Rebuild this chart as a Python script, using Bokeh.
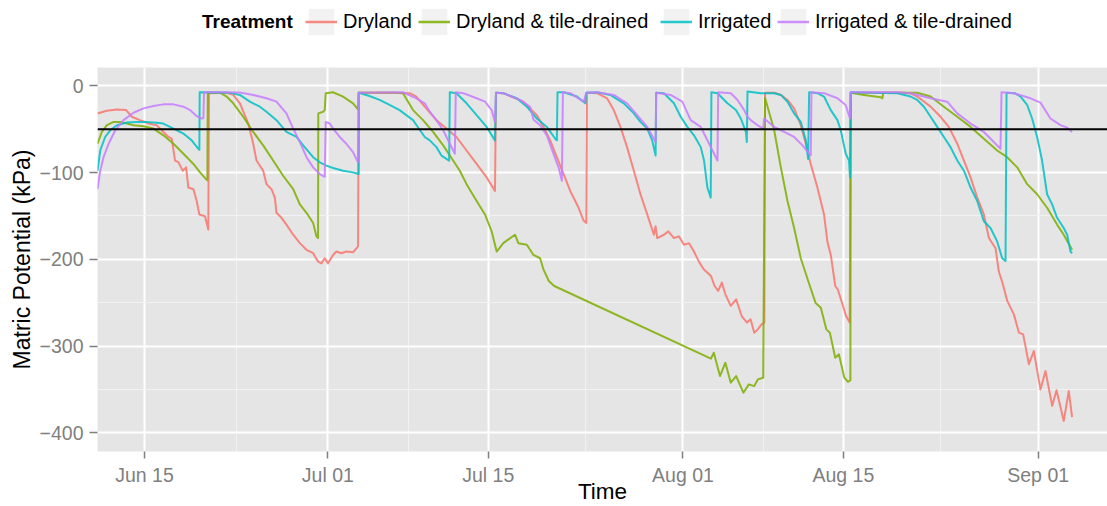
import pandas as pd
from bokeh.plotting import figure
from bokeh.layouts import column
from bokeh.models import (Range1d, FixedTicker, DatetimeTickFormatter, Legend, LegendItem,
                          Span, ColumnDataSource)
from bokeh.embed import file_html
from bokeh.resources import INLINE

# ---------------- data (days since Jun 15, matric potential in kPa) ----------------
day0 = pd.Timestamp("2013-06-15")

treatments = ["Dryland", "Dryland & tile-drained", "Irrigated", "Irrigated & tile-drained"]
colors = ["#F8766D", "#7CAE00", "#00BFC4", "#C77CFF"]

dryland_days = [-4.1, -3.3, -2.4, -1.6, -1.1, -0.4, 0.35, 1.07, 1.65, 2.09, 2.38, 2.67, 2.96, 3.34, 3.63, 3.83, 4.27, 4.56, 4.79, 5.28, 5.57, 5.63,
                7.17, 7.75, 8.33, 9.06, 9.49, 9.78, 10.36, 10.65, 11.09, 11.38, 11.52, 11.96, 12.39, 12.98, 13.56, 14.14, 14.72, 15.15, 15.44, 15.73, 16.02, 16.46, 16.75, 17.18, 17.62, 18.2, 18.64, 18.69,
                21.4, 23.15, 23.73, 24.46, 25.48, 26.36, 27.23, 28.11, 28.99, 29.86, 30.59, 30.68,
                31.32, 33.07, 34.24, 34.83, 35.41, 35.99, 36.58, 37.16, 37.89, 38.33, 38.56, 38.62,
                39.5, 40.37, 40.96, 41.54, 42.12, 42.71, 43.29, 43.88, 44.46, 44.61, 44.75, 45.34, 45.72, 46.21, 46.65, 47.09, 47.53, 47.96, 48.4, 48.81, 49.44, 49.76, 50.07, 50.39, 50.7, 51.17, 51.64, 52.12, 52.59, 52.9, 53.22, 53.53, 53.85, 54.1, 54.16,
                55.0, 55.54, 56.12, 56.7, 57.28, 57.72, 58.15, 58.73, 59.31, 59.6, 59.9, 60.29, 60.51, 60.92, 61.23, 61.55, 61.64,
                66.3, 66.9, 67.45, 68.61, 69.48, 70.2, 70.94, 71.52, 72.1, 72.68, 73.26, 73.7, 74.28, 74.57, 74.86, 75.3, 75.88, 76.32, 76.69, 77.19, 77.62, 78.2, 78.64, 79.22, 79.6, 80.23, 80.67, 80.96]
dryland_kpa = [-32, -28.7, -27.2, -28, -35.7, -39.6, -43.5, -45.4, -53.2, -59, -61, -86.2, -88, -97.9, -94, -117.3, -119.2, -132.8, -148.3, -150.3, -165.8, -8.5,
               -8, -10.5, -20.2, -43.5, -66.8, -86.2, -97.9, -113.4, -119.2, -128.9, -146.4, -152.2, -160, -171.7, -181.4, -189.1, -193, -202.7, -204.7, -198.8, -204.7, -195, -191, -193, -191, -192, -185.2, -8,
               -8, -8.5, -12.4, -24.1, -39.6, -49.3, -59, -74.6, -90.1, -105.6, -121.2, -8,
               -8.5, -18.3, -33.8, -47.4, -62.9, -82.3, -101.7, -121.2, -140.6, -155.3, -158.1, -8,
               -8.5, -14.4, -28, -47.4, -70.7, -97.9, -125, -148.3, -171.7, -162, -175.5, -171.7, -167.8, -175.5, -173.6, -183.3, -181.4, -191.1, -203, -211.5, -219.2, -230.8, -236.5, -226.9, -240.4, -253.8, -246.2, -265.4, -273, -269.2, -284.6, -280.8, -275, -273, -8,
               -8, -10.5, -16.3, -26, -45.4, -66.8, -90.1, -117.3, -148.3, -179.4, -195, -230.8, -234.6, -252, -265.4, -273, -8,
               -8, -9, -12.4, -24, -35.7, -47.4, -66.8, -86.2, -105.6, -128.9, -148.3, -175.5, -187.2, -214.4, -226, -248, -263.5, -284.6, -286.5, -321, -305.8, -350, -328.8, -369, -351, -386.5, -352, -382]

dry_tile_days = [-4.1, -3.72, -3.28, -2.7, -2.12, -1.54, -0.96, -0.09, 0.78, 1.65, 2.53, 3.4, 4.27, 4.85, 5.37, 5.49, 5.52,
                 6.59, 7.17, 7.75, 8.62, 9.49, 10.36, 11.23, 12.1, 12.98, 13.56, 14.14, 14.72, 15.01, 15.15, 15.17, 15.59, 15.73, 15.82,
                 16.46, 17.33, 18.2, 18.64, 18.69,
                 22.0, 22.56, 23.44, 24.31, 25.19, 26.07, 26.94, 27.52, 28.11, 28.99, 29.72, 30.3, 30.74, 31.32, 32.34, 32.63, 33.37, 33.95, 34.53, 34.83, 35.29, 35.76, 49.44, 49.69, 50.23, 50.7, 51.17, 51.64, 52.27, 52.75, 53.22, 53.53, 54.0, 54.16,
                 54.38, 54.96, 55.54, 56.12, 56.7, 57.28, 57.93, 58.56, 59.03, 59.51, 59.82, 60.29, 60.61, 61.08, 61.39, 61.61, 61.64,
                 62.8, 64.25, 64.4, 64.48, 67.45, 68.61, 69.77, 70.94, 72.1, 73.26, 74.42, 75.29, 76.17, 77.04, 77.91, 78.78, 79.65, 80.23, 80.96]
dry_tile_kpa = [-66.8, -53.2, -45.4, -41.6, -41.6, -43.5, -45.4, -46.6, -49.3, -57.1, -66.8, -78.4, -90.1, -99.8, -107.6, -108.7, -8,
                -8, -12.4, -20.2, -35.7, -53.2, -68.7, -86.2, -103.7, -119.2, -136.7, -146.4, -158.1, -173.6, -175.5, -31.8, -29.9, -28, -8.5,
                -7.4, -12.4, -20.2, -27.2, -8,
                -8, -8.5, -28, -39.6, -53.2, -68.7, -86.2, -97.9, -113.4, -132.8, -148.3, -167.8, -191.1, -181.4, -171.7, -181.4, -183.3, -195, -198.8, -212, -225, -230.8, -314.6, -307.7, -334.6, -319.2, -342.3, -334.6, -353.8, -344.2, -346.2, -338.5, -336.5, -14,
                -24.1, -51.3, -94, -132.8, -163.9, -198.8, -225, -250, -255.8, -280.8, -284.6, -313.5, -309.6, -336.5, -341.2, -339.6, -8,
                -10.5, -13.2, -14.4, -8, -8, -12.4, -24.1, -35.7, -47.4, -61, -74.6, -82.3, -94, -113.4, -125, -140.6, -160, -171.7, -189.1]

irrigated_days = [-4.1, -3.86, -3.43, -2.99, -2.41, -1.54, -0.67, 0.2, 1.07, 1.65, 2.53, 3.4, 4.12, 4.7, 4.79, 4.82,
                  7.46, 8.33, 9.2, 10.07, 10.65, 11.52, 12.39, 13.27, 13.85, 14.72, 15.3, 15.88, 16.46, 17.33, 18.2, 18.69, 18.72,
                  19.64, 20.52, 21.39, 22.27, 22.85, 23.44, 24.46, 24.9, 25.48, 25.92, 26.59, 26.65,
                  27.23, 28.11, 28.99, 29.86, 30.59, 30.68,
                  31.32, 32.49, 33.37, 34.24, 35.12, 35.85, 35.99, 36.05, 36.58, 37.74, 38.47, 38.56,
                  39.5, 40.66, 41.83, 42.71, 43.29, 43.88, 44.31, 44.61, 44.66,
                  45.34, 46.21, 46.8, 47.38, 47.96, 48.55, 48.84, 49.13, 49.42, 49.48,
                  50.01, 50.88, 51.62, 52.05, 52.49, 52.57, 52.63,
                  53.8, 54.96, 55.54, 56.12, 56.7, 57.28, 57.72, 57.92, 58.01,
                  58.73, 59.31, 59.9, 60.48, 60.77, 61.2, 61.49, 61.58, 61.64,
                  65.71, 66.87, 67.45, 68.03, 68.61, 69.19, 69.77, 70.35, 70.94, 71.52, 72.1, 72.68, 73.26, 73.84, 74.42, 74.86, 75.15, 75.24,
                  75.96, 76.46, 77.04, 77.47, 77.91, 78.34, 78.78, 79.22, 79.65, 80.23, 80.53, 80.82, 80.96]
irrigated_kpa = [-97.9, -74.6, -59, -51.3, -45.4, -42.3, -41.6, -41.6, -42.7, -43.5, -49.3, -55.1, -62.9, -72.6, -73.8, -7.4,
                 -8, -10.5, -18.3, -24.1, -29.9, -39.6, -53.2, -59, -68.7, -82.3, -88.2, -92, -94.8, -97.9, -99.8, -101.7, -8,
                 -11.7, -16.3, -22.1, -28, -33.8, -39.6, -59, -62.9, -70.7, -80.4, -86.2, -7.4,
                 -8.5, -20.2, -33.8, -47.4, -62.9, -8,
                 -8.5, -14.4, -24.1, -37.7, -47.4, -61, -62.9, -7.4, -7.4, -12.4, -20.2, -8,
                 -7.4, -10.5, -20.2, -31.8, -41.6, -49.3, -62.9, -80.4, -8,
                 -8.5, -20.2, -35.7, -47.4, -57.1, -70.7, -86.2, -117.3, -128.9, -7.4,
                 -8.5, -20.2, -28, -37.7, -53.2, -64.9, -6.6,
                 -8.5, -8.5, -10.5, -18.3, -31.8, -41.6, -62.9, -84.3, -7.4,
                 -8.5, -12.4, -28, -39.6, -51.3, -78.4, -86.2, -105.6, -7.4,
                 -8.5, -12.4, -16.3, -24.1, -35.7, -47.4, -59, -70.7, -86.2, -97.9, -117.3, -132.8, -156.1, -163.9, -179.4, -198.8, -202, -8,
                 -8.5, -12.4, -22.1, -37.7, -59, -86.2, -125, -136.7, -152.2, -163.9, -171.7, -191.1, -193]

irr_tile_days = [-4.1, -3.86, -3.57, -3.13, -2.55, -1.83, -0.96, -0.09, 0.78, 1.65, 2.53, 3.4, 3.98, 4.56, 4.99, 5.14, 5.2,
                 6.59, 8.33, 9.49, 10.65, 11.52, 12.39, 12.98, 13.56, 14.14, 14.72, 15.3, 15.73, 15.82,
                 16.17, 16.46, 17.04, 17.62, 18.2, 18.64, 18.72,
                 22.56, 23.73, 24.46, 24.9, 25.48, 26.07, 26.65, 27.09, 27.17,
                 27.82, 28.99, 29.72, 30.3, 30.59, 30.68,
                 31.32, 32.78, 33.66, 33.95, 34.53, 35.12, 35.7, 36.14, 36.43, 36.52,
                 37.16, 38.33, 38.56,
                 39.5, 40.96, 42.12, 43.0, 43.88, 44.61, 44.66,
                 45.92, 46.94, 47.67, 48.55, 49.28, 50.01, 50.07,
                 51.18, 51.76, 52.34, 52.63, 52.92, 53.5, 54.0, 54.09, 54.96, 55.83, 56.7, 57.43, 58.15, 58.21,
                 59.31, 60.48, 61.2, 61.58, 61.64,
                 65.71, 66.87, 68.61, 70.06, 70.94, 72.1, 73.26, 74.71, 74.8,
                 75.87, 77.33, 78.2, 79.07, 79.94, 80.53, 80.96]
irr_tile_kpa = [-119.2, -97.9, -82.3, -66.8, -51.3, -39.6, -31.1, -26, -23.3, -21.4, -21.4, -24.1, -28, -35, -37.7, -37.3, -7.4,
                -7.4, -7.8, -10.5, -14.4, -18.3, -31.8, -49.3, -64.9, -82.3, -94, -101.7, -104.9, -41.6,
                -43.5, -49.3, -59, -66.8, -76.5, -88.2, -8,
                -7.4, -14.4, -20.2, -29.9, -39.6, -51.3, -66.8, -78.4, -7.4,
                -8.5, -14.4, -18.3, -28, -41.6, -8,
                -8.5, -16.3, -24.1, -38.8, -45.4, -57.1, -78.4, -94, -109.5, -7.4,
                -8.5, -18.3, -8,
                -7.4, -10.5, -20.2, -33.8, -47.4, -64.9, -8,
                -10.5, -18.3, -39.6, -47.4, -66.8, -86.2, -7.4,
                -8.5, -16.3, -28, -35.7, -39.6, -45.4, -49.3, -37.7, -47.4, -53.2, -59, -68.7, -80.4, -7.4,
                -8.5, -14.4, -22.1, -37.7, -7.4,
                -7.4, -8.5, -14.4, -18.3, -31.8, -43.5, -53.2, -72.6, -7.4,
                -8.5, -14.4, -19.4, -37.7, -45.4, -48.2, -53.2]

series_days = [dryland_days, dry_tile_days, irrigated_days, irr_tile_days]
series_kpa = [dryland_kpa, dry_tile_kpa, irrigated_kpa, irr_tile_kpa]

threshold_kpa = -50

x_tick_dates = ["2013-06-15", "2013-07-01", "2013-07-15", "2013-08-01", "2013-08-15", "2013-09-01"]
x_minor_dates = ["2013-06-23", "2013-07-08", "2013-07-23 12:00", "2013-08-08", "2013-08-23 12:00"]
y_ticks = [-400, -300, -200, -100, 0]
y_minor = [-350, -250, -150, -50]
y_tick_labels = ["\u2212400", "\u2212300", "\u2212200", "\u2212100", "0"]


def ms(ts):
    return pd.Timestamp(ts).value / 1e6


FONT = "Liberation Sans"
W = 1107
LEG_H = 45
LEFT = 97

# ---------------- main plot ----------------
p = figure(width=W, height=506 - LEG_H, x_axis_type="datetime",
           x_range=Range1d(ms(day0 + pd.Timedelta(days=-4.10)), ms(day0 + pd.Timedelta(days=84.05))),
           y_range=Range1d(-421.6, 21.1),
           output_backend="svg", toolbar_location=None,
           min_border_left=LEFT, min_border_right=0, min_border_top=22, min_border_bottom=55,
           background_fill_color="#E5E5E5", border_fill_color="white", outline_line_color=None)

xticker = FixedTicker(ticks=[ms(d) for d in x_tick_dates], minor_ticks=[ms(d) for d in x_minor_dates])
yticker = FixedTicker(ticks=y_ticks, minor_ticks=y_minor)
p.xaxis.ticker = xticker
p.yaxis.ticker = yticker
p.xgrid.ticker = xticker
p.ygrid.ticker = yticker
p.xaxis.formatter = DatetimeTickFormatter(days="%b %d", months="%b %d", years="%b %d")
p.yaxis.major_label_overrides = {t: lab for t, lab in zip(y_ticks, y_tick_labels)}

for ax in (p.xaxis[0], p.yaxis[0]):
    ax.axis_line_color = None
    ax.major_tick_line_color = "#7F7F7F"
    ax.major_tick_line_width = 1.5
    ax.major_tick_out = 8
    ax.major_tick_in = 0
    ax.minor_tick_line_color = None
    ax.major_label_text_font = FONT
    ax.major_label_text_font_size = "19.5px"
    ax.major_label_text_color = "#7F7F7F"
    ax.axis_label_text_font = FONT
    ax.axis_label_text_font_style = "normal"
    ax.axis_label_text_color = "black"
p.xaxis.major_tick_out = 7
p.xaxis.major_label_standoff = 5
p.xaxis.axis_label = "Time"
p.xaxis.axis_label_text_font_size = "22.5px"
p.xaxis.axis_label_standoff = -10
p.yaxis.major_label_standoff = 6
p.yaxis.axis_label = "Matric Potential (kPa)"
p.yaxis.axis_label_text_font_size = "23px"
p.yaxis.axis_label_standoff = 2

for g in (p.xgrid[0], p.ygrid[0]):
    g.grid_line_color = "white"
    g.grid_line_width = 2
    g.minor_grid_line_color = "#F2F2F2"
    g.minor_grid_line_width = 1

for name, col, days, kpa in zip(treatments, colors, series_days, series_kpa):
    src = ColumnDataSource(dict(t=day0 + pd.to_timedelta(days, unit="D"), kpa=kpa))
    p.line("t", "kpa", source=src, line_color=col, line_width=2, line_alpha=0.85, line_join="round")

p.add_layout(Span(location=threshold_kpa, dimension="width", line_color="black", line_width=2))

# ---------------- legend strip (ggplot style, horizontal, on top) ----------------
lf = figure(width=W, height=LEG_H, x_range=(0, 1), y_range=(0, 1),
            output_backend="svg", toolbar_location=None,
            min_border_left=LEFT, min_border_right=0, min_border_top=0, min_border_bottom=0,
            x_axis_location=None, y_axis_location=None,
            outline_line_color=None, background_fill_color="white", border_fill_color="white")
lf.xgrid.visible = False
lf.ygrid.visible = False

# legend-only renderers (their single point lies outside the strip's visible range)
key_box = lf.quad(left=[5], right=[6], top=[6], bottom=[5], fill_color="#F2F2F2", line_color=None)
dummy = lf.line(x=[5, 6], y=[5, 5], line_alpha=0)

common = dict(orientation="horizontal", glyph_height=33, label_height=33, padding=0, margin=0,
              spacing=0, border_line_color=None, background_fill_alpha=0,
              label_text_font=FONT, label_text_color="black")
lf.add_layout(Legend(items=[LegendItem(label="Treatment", renderers=[dummy])], location=(202 - LEFT, 7),
                     glyph_width=0, label_standoff=0, label_text_font_style="bold",
                     label_text_font_size="19px", **common))
for name, col, px in zip(treatments, colors, [305, 418, 660, 777]):
    key_line = lf.line(x=[5, 6], y=[5, 5], line_color=col, line_width=2.5, line_alpha=0.85)
    lf.add_layout(Legend(items=[LegendItem(label=name, renderers=[key_box, key_line])], location=(px - LEFT, 7),
                         glyph_width=32, label_standoff=6, label_text_font_size="20px", **common))

layout = column(lf, p, spacing=0)
open("out.html", "w").write(file_html(layout, INLINE))
